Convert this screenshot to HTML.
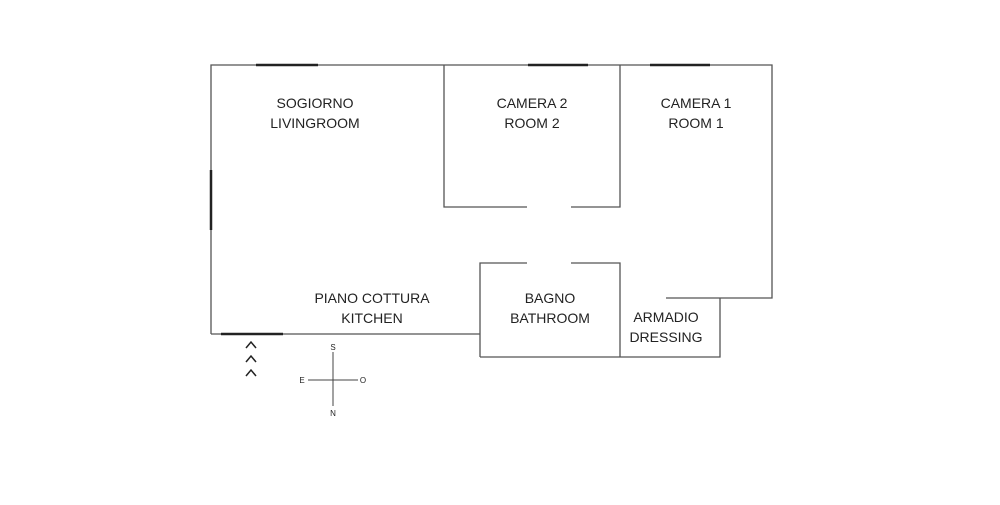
<!DOCTYPE html>
<html><head><meta charset="utf-8"><style>
body{margin:0;background:#fff;width:1000px;height:500px;overflow:hidden}
text{font-family:"Liberation Sans",sans-serif;fill:#222}
</style></head><body>
<svg width="1000" height="500" viewBox="0 0 1000 500">
<g stroke="#555" stroke-width="1.3" fill="none">
<path d="M211 334 V65 H772 V298 H666"/>
<path d="M444 65 V207 H527 M571 207 H620 V65"/>
<path d="M211 334 H480"/>
<path d="M480 357 V263 H527 M571 263 H620 V357 M480 357 H720 V298"/>
</g>
<g stroke="#222" stroke-width="2.5">
<path d="M256 65 H318 M528 65 H588 M650 65 H710 M211 170 V230 M221 334 H283"/>
</g>
<g stroke="#222" stroke-width="1.5" fill="none">
<path d="M246 348 L251 342 L256 348 M246 362 L251 356 L256 362 M246 376 L251 370 L256 376"/>
</g>
<g stroke="#444" stroke-width="1"><path d="M333 352 V406 M308 380 H358"/></g>
<g font-size="8" text-anchor="middle">
<text x="333" y="350">S</text><text x="333" y="416">N</text>
<text x="302" y="383">E</text><text x="363" y="383">O</text>
</g>
<g font-size="14" text-anchor="middle">
<text x="315" y="108">SOGIORNO</text><text x="315" y="128">LIVINGROOM</text>
<text x="532" y="108">CAMERA 2</text><text x="532" y="128">ROOM 2</text>
<text x="696" y="108">CAMERA 1</text><text x="696" y="128">ROOM 1</text>
<text x="372" y="303">PIANO COTTURA</text><text x="372" y="323">KITCHEN</text>
<text x="550" y="303">BAGNO</text><text x="550" y="323">BATHROOM</text>
<text x="666" y="322">ARMADIO</text><text x="666" y="342">DRESSING</text>
</g>
</svg>
</body></html>
